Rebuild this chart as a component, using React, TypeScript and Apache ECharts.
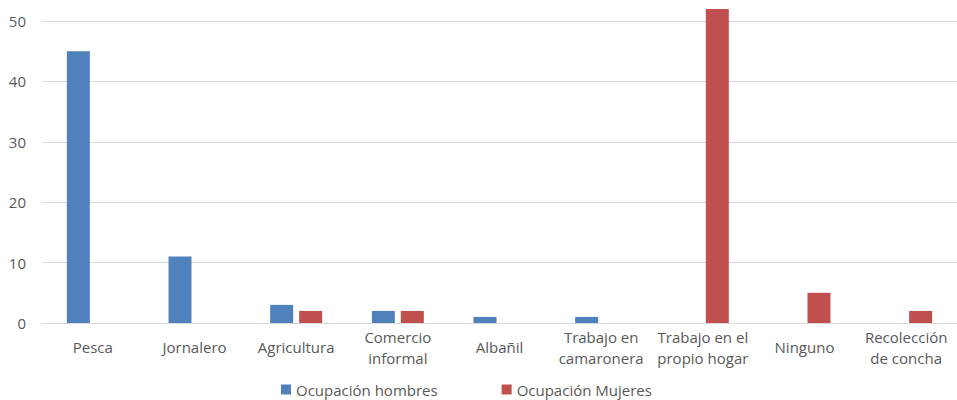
import React, { useEffect, useRef } from "react";
import * as echarts from "echarts";

const categories = [
  "Pesca",
  "Jornalero",
  "Agricultura",
  "Comercio\ninformal",
  "Albañil",
  "Trabajo en\ncamaronera",
  "Trabajo en el\npropio hogar",
  "Ninguno",
  "Recolección\nde concha",
];
const hombres = [45, 11, 3, 2, 1, 1, null, null, null];
const mujeres = [null, null, 2, 2, null, null, 52, 5, 2];
const seriesNames = ["Ocupación hombres", "Ocupación Mujeres"];

export default function App() {
  const ref = useRef<HTMLDivElement>(null);
  useEffect(() => {
    if (!ref.current) return;
    const chart = echarts.init(ref.current, undefined, { renderer: "svg" });
    const font = "'Open Sans', sans-serif";
    chart.setOption({
      animation: false,
      grid: { left: 42, right: -3, top: 5.9, bottom: 77, containLabel: false },
      legend: {
        left: 276,
        top: 377,
        itemWidth: 10,
        itemHeight: 10,
        itemGap: 64,
        icon: "rect",
        textStyle: { color: "#595959", fontSize: 15, fontFamily: font },
        data: seriesNames,
      },
      xAxis: {
        type: "category",
        data: categories,
        axisLine: { lineStyle: { color: "#D9D9D9", width: 1 } },
        axisTick: { show: false },
        axisLabel: {
          color: "#595959",
          fontSize: 15,
          fontFamily: font,
          verticalAlign: "middle",
          margin: 24,
          lineHeight: 21,
          interval: 0,
        },
      },
      yAxis: {
        type: "value",
        min: 0,
        max: 52.5,
        interval: 10,
        axisLine: { show: false },
        axisTick: { show: false },
        splitLine: { showMaxLine: false, lineStyle: { color: "#D9D9D9", width: 1 } },
        axisLabel: {
          color: "#595959",
          fontSize: 15,
          fontFamily: font,
          margin: 16,
          showMaxLabel: false,
          formatter: (v: number) => (v % 10 === 0 ? String(v) : ""),
        },
      },
      series: [
        {
          name: seriesNames[0],
          type: "bar",
          data: hombres,
          barWidth: 23,
          barGap: "26%",
          itemStyle: { color: "#4F81BD" },
        },
        {
          name: seriesNames[1],
          type: "bar",
          data: mujeres,
          barWidth: 23,
          itemStyle: { color: "#C0504D" },
        },
      ],
    });
    return () => chart.dispose();
  }, []);
  return <div ref={ref} style={{ width: 957, height: 400, position: "absolute", left: 0, top: 0 }} />;
}
